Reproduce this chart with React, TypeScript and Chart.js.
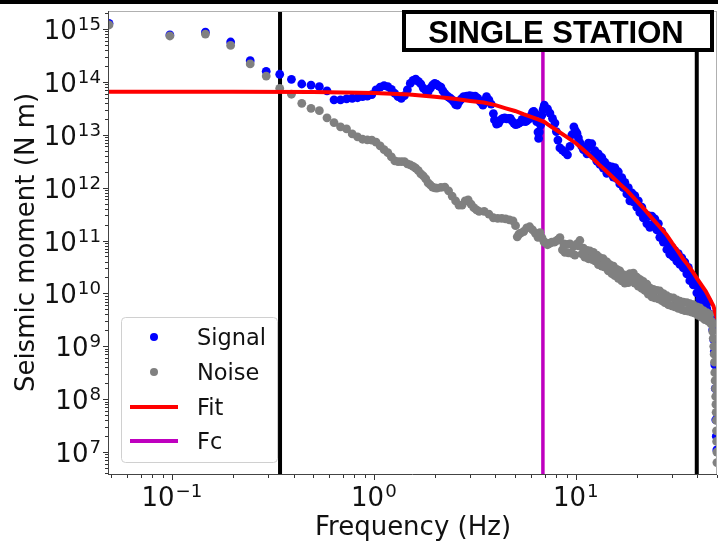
import React, { useEffect, useRef } from 'react';
import { Chart, registerables } from 'chart.js';

Chart.register(...registerables);

// ---------------- data ----------------
// Frequencies in Hz, seismic moment stored as log10(N m)
const signalFreq = [
  0.0488, 0.0977, 0.1465, 0.1953, 0.2441, 0.293, 0.3418, 0.3906, 0.4395, 0.4883,
  0.5371, 0.5859, 0.6348, 0.6836, 0.7324, 0.7813, 0.8301, 0.8789, 0.9277, 0.9766,
  1.025, 1.074, 1.123, 1.172, 1.221, 1.27, 1.318, 1.367, 1.416, 1.465,
  1.514, 1.563, 1.611, 1.66, 1.709, 1.758, 1.807, 1.855, 1.904, 1.953,
  2.002, 2.051, 2.1, 2.148, 2.197, 2.246, 2.295, 2.344, 2.393, 2.441,
  2.49, 2.539, 2.588, 2.637, 2.686, 2.734, 2.783, 2.881, 2.979, 3.076,
  3.174, 3.271, 3.369, 3.467, 3.564, 3.613, 3.711, 3.809, 3.906, 3.955,
  4.053, 4.15, 4.248, 4.346, 4.443, 4.541, 4.639, 4.736, 4.834, 4.932,
  5.029, 5.127, 5.225, 5.322, 5.42, 5.518, 5.615, 5.713, 5.811, 5.908,
  6.006, 6.104, 6.201, 6.299, 6.396, 6.494, 6.543, 6.592, 6.689, 6.787,
  6.885, 6.982, 7.24, 7.44, 7.66, 7.88, 8.01, 8.15, 8.34, 8.58,
  8.83, 9.09, 9.35, 9.56, 9.78, 9.95, 10.13, 10.3, 10.47, 10.71,
  10.9, 11.08, 11.35, 11.54, 11.73, 12.0, 12.21, 12.42, 12.71, 12.93,
  13.15, 13.45, 13.68, 13.92, 14.24, 14.49, 14.74, 15.08, 15.34, 15.6,
  15.96, 16.23, 16.51, 16.89, 17.19, 17.48, 17.89, 18.19, 18.51, 18.94,
  19.27, 19.59, 20.05, 20.39, 20.74, 21.22, 21.59, 21.96, 22.47, 22.86,
  23.25, 23.79, 24.2, 24.61, 25.18, 25.62, 26.05, 26.66, 27.12, 27.58,
  28.22, 28.71, 29.2, 29.88, 30.39, 30.91, 31.63, 32.17, 32.72, 33.48,
  34.06, 34.64, 35.44, 36.05, 36.67, 37.52, 38.17, 38.82, 39.72, 40.41,
  41.1, 42.05, 42.78, 43.51, 44.52, 45.29, 46.06, 46.57, 47.1, 47.6,
  48.2, 48.5, 48.76, 49.0, 49.3, 49.6, 49.9,
];
const signalLog = [
  15.108, 14.887, 14.94, 14.754, 14.4, 14.2, 14.144, 14.049, 13.96, 13.94,
  13.91, 13.83, 13.66, 13.66, 13.68, 13.69, 13.7, 13.72, 13.73, 13.76,
  13.85, 13.9, 13.93, 13.91, 13.86, 13.78, 13.72, 13.69, 13.74, 13.85,
  13.97, 14.03, 14.05, 14.01, 13.96, 13.88, 13.84, 13.81, 13.88, 13.94,
  13.97, 13.95, 13.92, 13.9, 13.83, 13.78, 13.74, 13.71, 13.69, 13.66,
  13.62, 13.57, 13.56, 13.62, 13.66, 13.69, 13.72, 13.73, 13.74, 13.73,
  13.73, 13.69, 13.62, 13.56, 13.66, 13.72, 13.66, 13.58, 13.4, 13.28,
  13.2, 13.22, 13.28, 13.31, 13.32, 13.3, 13.31, 13.31, 13.26, 13.22,
  13.19, 13.2, 13.22, 13.24, 13.29, 13.27, 13.25, 13.26, 13.29, 13.31,
  13.36, 13.43, 13.44, 13.4, 13.25, 13.05, 12.93, 13.05, 13.18, 13.37,
  13.48, 13.56, 13.49, 13.41, 13.31, 13.22, 13.06, 12.9, 12.75, 12.71,
  12.67, 12.62, 12.78, 13.0, 13.15, 13.08, 13.03, 12.94, 12.85, 12.78,
  12.72, 12.76, 12.64, 12.84, 12.76, 12.83, 12.6, 12.7, 12.5, 12.64,
  12.44, 12.57, 12.37, 12.48, 12.27, 12.41, 12.29, 12.39, 12.2, 12.38,
  12.17, 12.3, 12.07, 12.19, 12.0, 12.1, 11.88, 12.0, 11.75, 11.9,
  11.73, 11.85, 11.63, 11.75, 11.53, 11.63, 11.43, 11.5, 11.32, 11.47,
  11.25, 11.46, 11.31, 11.41, 11.2, 11.32, 11.06, 11.17, 10.97, 11.03,
  10.83, 10.96, 10.74, 10.87, 10.69, 10.81, 10.61, 10.75, 10.55, 10.67,
  10.48, 10.59, 10.37, 10.49, 10.24, 10.35, 10.16, 10.24, 10.01, 10.13,
  9.89, 10.01, 9.82, 9.92, 9.71, 9.84, 9.61, 9.6, 9.5, 9.31,
  9.12, 8.9, 8.65, 8.2, 7.61, 7.3, 7.04,
];

const noiseFreq = [
  0.0488, 0.0977, 0.1465, 0.1953, 0.2441, 0.293, 0.3418, 0.3906, 0.4395, 0.4883,
  0.5371, 0.5859, 0.6348, 0.6836, 0.7324, 0.7813, 0.8301, 0.8789, 0.9277, 0.9766,
  1.025, 1.074, 1.123, 1.172, 1.221, 1.27, 1.318, 1.367, 1.416, 1.465,
  1.514, 1.563, 1.611, 1.66, 1.709, 1.758, 1.807, 1.855, 1.904, 1.953,
  2.002, 2.051, 2.148, 2.246, 2.344, 2.441, 2.539, 2.637, 2.734, 2.832,
  2.93, 3.027, 3.125, 3.223, 3.32, 3.516, 3.711, 3.906, 4.102, 4.297,
  4.492, 4.688, 4.883, 5.029, 5.127, 5.225, 5.322, 5.518, 5.713, 5.908,
  6.104, 6.299, 6.494, 6.64, 6.8, 6.95, 7.03, 7.24, 7.36, 7.44,
  7.61, 7.82, 7.88, 8.07, 8.2, 8.34, 8.58, 8.72, 8.83, 9.04,
  9.2, 9.35, 9.56, 9.73, 9.89, 10.13, 10.3, 10.47, 10.71, 10.9,
  11.08, 11.35, 11.54, 11.73, 12.0, 12.21, 12.42, 12.71, 12.93, 13.15,
  13.45, 13.68, 13.92, 14.24, 14.49, 14.74, 15.08, 15.34, 15.6, 15.96,
  16.23, 16.51, 16.89, 17.19, 17.48, 17.89, 18.19, 18.51, 18.94, 19.27,
  19.59, 20.05, 20.39, 20.74, 21.22, 21.59, 21.96, 22.47, 22.86, 23.25,
  23.79, 24.2, 24.61, 25.18, 25.62, 26.05, 26.66, 27.12, 27.58, 28.22,
  28.71, 29.2, 29.88, 30.39, 30.91, 31.63, 32.17, 32.72, 33.48, 34.06,
  34.64, 35.44, 36.05, 36.67, 37.52, 38.17, 38.82, 39.72, 40.41, 41.1,
  42.05, 42.78, 43.51, 44.52, 45.29, 46.06, 46.57, 47.1, 47.4, 47.6,
  47.9, 48.2, 48.4, 48.6, 48.76, 48.95, 49.1, 49.25, 49.4, 49.5,
  49.6, 49.7, 49.8, 49.9, 49.95,
];
const noiseLog = [
  15.076, 14.868, 14.905, 14.69, 14.34, 14.11, 13.879, 13.766, 13.595, 13.5,
  13.455, 13.32, 13.23, 13.15, 13.11, 13.015, 12.96, 12.915, 12.905, 12.9,
  12.86, 12.79, 12.72, 12.66, 12.58, 12.505, 12.49, 12.49, 12.49, 12.45,
  12.43, 12.4, 12.37, 12.32, 12.26, 12.22, 12.165, 12.09, 12.05, 12.01,
  11.995, 11.99, 12.005, 12.01, 11.94, 11.84, 11.75, 11.67, 11.67, 11.75,
  11.77, 11.69, 11.62, 11.58, 11.55, 11.55, 11.5, 11.43, 11.42, 11.42,
  11.41, 11.39, 11.37, 11.28, 11.07, 11.12, 11.14, 11.17, 11.24, 11.26,
  11.2, 11.14, 11.06, 11.15, 11.05, 10.98, 10.96, 10.92, 10.94, 10.95,
  10.97, 10.97, 10.98, 11.0, 11.02, 11.055, 10.825, 10.935, 10.775, 10.925,
  10.765, 10.935, 10.755, 10.895, 10.725, 10.935, 10.9, 11.0, 10.745, 10.855,
  10.685, 10.815, 10.655, 10.805, 10.645, 10.775, 10.615, 10.725, 10.545, 10.675,
  10.515, 10.655, 10.495, 10.595, 10.425, 10.545, 10.375, 10.515, 10.335, 10.455,
  10.285, 10.425, 10.235, 10.355, 10.195, 10.335, 10.205, 10.375, 10.245, 10.385,
  10.195, 10.305, 10.135, 10.265, 10.095, 10.225, 10.055, 10.175, 9.985, 10.105,
  9.935, 10.075, 9.915, 10.055, 9.895, 10.045, 9.865, 9.995, 9.825, 9.955,
  9.785, 9.925, 9.765, 9.915, 9.745, 9.875, 9.715, 9.855, 9.695, 9.835,
  9.675, 9.825, 9.665, 9.805, 9.645, 9.785, 9.625, 9.745, 9.585, 9.725,
  9.545, 9.675, 9.505, 9.635, 9.475, 9.605, 9.435, 9.47, 9.4, 9.28,
  9.15, 9.0, 8.85, 8.7, 8.5, 8.35, 8.2, 8.05, 7.9, 7.75,
  7.6, 7.4, 7.2, 7.0, 6.8,
];

const fitFreq = [
  0.0488, 0.2, 0.5, 1.0, 1.5, 2.0, 2.5, 3.0, 3.5, 4.0,
  4.5, 5.0, 5.5, 6.0, 6.5, 7.0, 7.5, 8.0, 9.0, 10.0,
  11.0, 12.0, 13.0, 14.0, 15.0, 16.5, 18.0, 20.0, 22.0, 24.0,
  26.0, 28.0, 30.0, 32.0, 34.0, 36.0, 38.0, 40.0, 42.0, 44.0,
  46.0, 48.0, 50.0,
];
const fitLog = [
  13.815, 13.815, 13.81, 13.79, 13.76, 13.72, 13.68, 13.64, 13.61, 13.56,
  13.5, 13.45, 13.39, 13.34, 13.29, 13.24, 13.16, 13.09, 12.96, 12.84,
  12.7, 12.57, 12.44, 12.33, 12.22, 12.07, 11.94, 11.75, 11.58, 11.41,
  11.26, 11.12, 10.95, 10.8, 10.65, 10.53, 10.4, 10.27, 10.15, 10.04,
  9.9, 9.76, 9.52,
];

const FC = 6.87; // corner frequency (Hz)
const BAND_LO = 0.343; // analysis window (Hz)
const BAND_HI = 39.7;

const X_MIN = 0.0488;
const X_MAX = 50;
const Y_MIN = 3.84e6;
const Y_MAX = 2.19e15;

const Y_MAJOR_EXP = [7, 8, 9, 10, 11, 12, 13, 14, 15];
const X_MAJOR_EXP = [-1, 0, 1];
const LEGEND_LABELS = ['Signal', 'Noise', 'Fit', 'Fc'];
const TITLE_BOX = 'SINGLE STATION';
const X_TITLE = 'Frequency (Hz)';
const Y_TITLE = 'Seismic moment (N m)';

// ---------------- styles ----------------
const W = 718;
const H = 543;
const FONT = '"DejaVu Sans", sans-serif';
const BLUE = '#0000ff';
const GRAY = '#808080';
const RED = '#ff0000';
const MAGENTA = '#bf00bf';
const DOT = 4.4;

const toPts = (fs: number[], ls: number[]) =>
  fs.map((f, i) => ({ x: f, y: Math.pow(10, ls[i]) }));

function supLabel(
  ctx: CanvasRenderingContext2D,
  exp: string,
  x: number,
  baseline: number,
  align: 'right' | 'center'
) {
  const baseFont = `26px ${FONT}`;
  const supFont = `18.2px ${FONT}`;
  ctx.font = baseFont;
  const w1 = ctx.measureText('10').width;
  ctx.font = supFont;
  const w2 = ctx.measureText(exp).width;
  const total = w1 + w2 + 1;
  const x0 = align === 'right' ? x - total : x - total / 2;
  ctx.textAlign = 'left';
  ctx.textBaseline = 'alphabetic';
  ctx.font = baseFont;
  ctx.fillText('10', x0, baseline);
  ctx.font = supFont;
  ctx.fillText(exp, x0 + w1 + 1, baseline - 9);
}

const decorPlugin = {
  id: 'decor',
  afterDraw(chart: any) {
    const { ctx, chartArea: ca, scales } = chart;
    const xs = scales.x;
    const ys = scales.y;
    ctx.save();

    // spines
    ctx.lineWidth = 1;
    ctx.strokeStyle = '#b0b0b0';
    ctx.beginPath();
    ctx.moveTo(ca.left, ca.top + 0.5);
    ctx.lineTo(ca.right, ca.top + 0.5);
    ctx.moveTo(ca.right - 0.5, ca.top);
    ctx.lineTo(ca.right - 0.5, ca.bottom);
    ctx.stroke();
    ctx.strokeStyle = '#444';
    ctx.beginPath();
    ctx.moveTo(ca.left - 0.5, ca.top);
    ctx.lineTo(ca.left - 0.5, ca.bottom + 1);
    ctx.moveTo(ca.left - 1, ca.bottom + 0.5);
    ctx.lineTo(ca.right, ca.bottom + 0.5);
    ctx.stroke();

    // ticks
    ctx.strokeStyle = '#333';
    ctx.beginPath();
    for (let e = 6; e <= 15; e++) {
      for (let k = 1; k <= 9; k++) {
        const v = k * Math.pow(10, e);
        if (v < Y_MIN || v > Y_MAX) continue;
        const py = Math.round(ys.getPixelForValue(v)) + 0.5;
        const len = k === 1 ? 5 : 3;
        ctx.moveTo(ca.left - 1 - len, py);
        ctx.lineTo(ca.left - 1, py);
      }
    }
    for (let e = -2; e <= 1; e++) {
      for (let k = 1; k <= 9; k++) {
        const v = k * Math.pow(10, e);
        if (v < X_MIN || v > X_MAX) continue;
        const px = Math.round(xs.getPixelForValue(v)) + 0.5;
        const len = k === 1 ? 5 : 3;
        ctx.moveTo(px, ca.bottom + 1);
        ctx.lineTo(px, ca.bottom + 1 + len);
      }
    }
    ctx.stroke();

    // tick labels
    ctx.fillStyle = '#111';
    Y_MAJOR_EXP.forEach((e) => {
      const py = ys.getPixelForValue(Math.pow(10, e));
      supLabel(ctx, String(e), ca.left - 8, py + 10, 'right');
    });
    X_MAJOR_EXP.forEach((e) => {
      const px = xs.getPixelForValue(Math.pow(10, e));
      supLabel(ctx, e < 0 ? '\u2212' + String(-e) : String(e), px, 506, 'center');
    });

    // axis titles
    ctx.font = `26px ${FONT}`;
    ctx.textAlign = 'center';
    ctx.textBaseline = 'alphabetic';
    ctx.fillText(X_TITLE, (ca.left + ca.right) / 2, 535);
    ctx.save();
    ctx.translate(34, (ca.top + ca.bottom) / 2);
    ctx.rotate(-Math.PI / 2);
    ctx.fillText(Y_TITLE, 0, 0);
    ctx.restore();

    // legend
    const lx = 121.5, ly = 317.5, lw = 156, lh = 145;
    ctx.beginPath();
    ctx.roundRect(lx, ly, lw, lh, 4);
    ctx.fillStyle = 'rgba(255,255,255,0.8)';
    ctx.fill();
    ctx.strokeStyle = '#d0d0d0';
    ctx.lineWidth = 1;
    ctx.stroke();
    const rows = [337, 372, 407, 441];
    ctx.fillStyle = BLUE;
    ctx.beginPath();
    ctx.arc(154, rows[0], 4, 0, Math.PI * 2);
    ctx.fill();
    ctx.fillStyle = GRAY;
    ctx.beginPath();
    ctx.arc(154, rows[1], 4, 0, Math.PI * 2);
    ctx.fill();
    ctx.lineWidth = 4;
    ctx.strokeStyle = RED;
    ctx.beginPath();
    ctx.moveTo(130, rows[2]);
    ctx.lineTo(178, rows[2]);
    ctx.stroke();
    ctx.strokeStyle = MAGENTA;
    ctx.beginPath();
    ctx.moveTo(130, rows[3]);
    ctx.lineTo(178, rows[3]);
    ctx.stroke();
    ctx.fillStyle = '#111';
    ctx.font = `22.5px ${FONT}`;
    ctx.textAlign = 'left';
    LEGEND_LABELS.forEach((t, i) => ctx.fillText(t, 197, rows[i] + 8.2));

    // title box
    ctx.fillStyle = '#ffffff';
    ctx.fillRect(402, 10, 312, 42);
    ctx.lineWidth = 4;
    ctx.strokeStyle = '#000';
    ctx.strokeRect(404, 12, 308, 38);
    ctx.fillStyle = '#000';
    ctx.font = 'bold 31px "Liberation Sans", Arial, sans-serif';
    ctx.textAlign = 'center';
    ctx.fillText(TITLE_BOX, 556, 43);

    // top bar of the figure
    ctx.fillRect(0, 0, W, 4);
    ctx.restore();
  },
};

export default function App() {
  const ref = useRef<HTMLCanvasElement>(null);
  useEffect(() => {
    document.body.style.margin = '0';
    const vline = (f: number) => [
      { x: f, y: Y_MIN },
      { x: f, y: Y_MAX },
    ];
    const chart = new Chart(ref.current as HTMLCanvasElement, {
      type: 'scatter',
      data: {
        datasets: [
          {
            label: 'Fit',
            data: toPts(fitFreq, fitLog),
            showLine: true,
            borderColor: RED,
            borderWidth: 4,
            pointRadius: 0,
            tension: 0,
            order: 1,
            clip: 0,
          },
          {
            label: 'Noise',
            data: toPts(noiseFreq, noiseLog),
            pointRadius: DOT,
            pointBorderWidth: 0,
            pointBackgroundColor: GRAY,
            backgroundColor: GRAY,
            borderColor: GRAY,
            order: 2,
            clip: 0,
          },
          {
            label: 'Signal',
            data: toPts(signalFreq, signalLog),
            pointRadius: DOT,
            pointBorderWidth: 0,
            pointBackgroundColor: BLUE,
            backgroundColor: BLUE,
            borderColor: BLUE,
            order: 3,
            clip: 0,
          },
          {
            label: 'Fc',
            data: vline(FC),
            showLine: true,
            borderColor: MAGENTA,
            borderWidth: 3.5,
            pointRadius: 0,
            order: 4,
            clip: 0,
          },
          {
            label: 'low',
            data: vline(BAND_LO),
            showLine: true,
            borderColor: '#000',
            borderWidth: 4,
            pointRadius: 0,
            order: 5,
            clip: 0,
          },
          {
            label: 'high',
            data: vline(BAND_HI),
            showLine: true,
            borderColor: '#000',
            borderWidth: 4,
            pointRadius: 0,
            order: 6,
            clip: 0,
          },
        ] as any,
      },
      options: {
        responsive: false,
        animation: false,
        devicePixelRatio: 1,
        events: [],
        layout: { autoPadding: false, padding: { left: 109, top: 11, right: 1, bottom: 69 } },
        plugins: {
          legend: { display: false },
          tooltip: { enabled: false },
          title: { display: false },
        },
        scales: {
          x: { type: 'logarithmic', display: false, min: X_MIN, max: X_MAX, bounds: 'data' },
          y: { type: 'logarithmic', display: false, min: Y_MIN, max: Y_MAX, bounds: 'data' },
        },
      } as any,
      plugins: [decorPlugin],
    });
    return () => chart.destroy();
  }, []);
  return (
    <div style={{ position: 'absolute', left: 0, top: 0, width: W, height: H, background: '#fff' }}>
      <canvas ref={ref} width={W} height={H} style={{ display: 'block', width: W, height: H }} />
    </div>
  );
}
